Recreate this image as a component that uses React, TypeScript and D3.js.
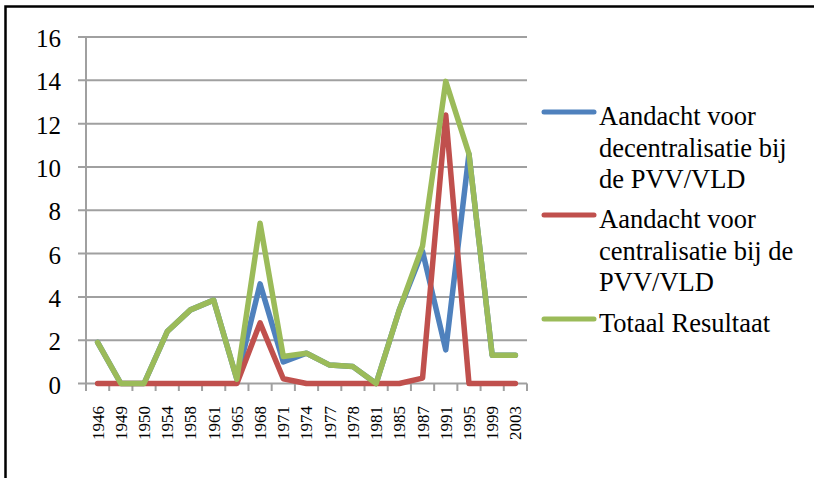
import * as d3 from "d3";

const years = ["1946", "1949", "1950", "1954", "1958", "1961", "1965", "1968", "1971", "1974", "1977", "1978", "1981", "1985", "1987", "1991", "1995", "1999", "2003"];
const decentralisatie = [1.9, 0, 0, 2.4, 3.4, 3.85, 0.2, 4.6, 1.0, 1.4, 0.85, 0.78, 0, 3.4, 6.1, 1.55, 10.6, 1.3, 1.3];
const centralisatie = [0, 0, 0, 0, 0, 0, 0, 2.8, 0.22, 0, 0, 0, 0, 0, 0.25, 12.4, 0, 0, 0];
const totaal = [1.9, 0, 0, 2.4, 3.4, 3.85, 0.2, 7.4, 1.25, 1.4, 0.85, 0.78, 0, 3.4, 6.35, 13.95, 10.6, 1.3, 1.3];
const yTicks = [0, 2, 4, 6, 8, 10, 12, 14, 16];

const series = [
  { name: ["Aandacht voor", "decentralisatie bij", "de PVV/VLD"], values: decentralisatie, color: "#4F81BD" },
  { name: ["Aandacht voor", "centralisatie bij de", "PVV/VLD"], values: centralisatie, color: "#C0504D" },
  { name: ["Totaal Resultaat"], values: totaal, color: "#9BBB59" },
];

const width = 814;
const height = 478;
const font = "Liberation Serif";
const grid = "#A0A0A0";

export default function App() {
  const x = d3.scaleBand<string>().domain(years).range([86, 527]).padding(0);
  const y = d3.scaleLinear().domain([0, 16]).range([383.5, 37]);
  const cx = (d: string) => (x(d) ?? 0) + x.bandwidth() / 2;

  const line = d3
    .line<number>()
    .x((_, i) => cx(years[i]))
    .y((v) => y(v));

  // legend layout
  const lineH = 31.5;
  const legendStarts = [125, 228, 332];

  return (
    <svg
      width={width}
      height={height}
      style={{ position: "absolute", left: 0, top: 0, background: "#fff", fontFamily: font }}
    >
      <rect x={5.5} y={6.5} width={width + 10} height={height + 10} fill="none" stroke="#000" strokeWidth={2.5} />

      {yTicks.map((t) => (
        <g key={t}>
          <line x1={78} x2={527} y1={y(t)} y2={y(t)} stroke={grid} strokeWidth={2} />
          <text x={61} y={y(t)} dy="0.4em" textAnchor="end" fontSize={25} fill="#000" style={{ fontFamily: font }}>
            {t}
          </text>
        </g>
      ))}

      <line x1={86} x2={86} y1={y(16)} y2={391} stroke={grid} strokeWidth={2} />
      {d3.range(years.length + 1).map((i) => {
        const xx = 86 + x.bandwidth() * i;
        return <line key={i} x1={xx} x2={xx} y1={y(0)} y2={391} stroke={grid} strokeWidth={2} />;
      })}

      {years.map((yr) => (
        <text
          key={yr}
          transform={`translate(${cx(yr)},406) rotate(-90)`}
          dy="0.35em"
          textAnchor="end"
          fontSize={17}
          fill="#000"
          style={{ fontFamily: font }}
        >
          {yr}
        </text>
      ))}

      {series.map((s) => (
        <path
          key={s.color}
          d={line(s.values) ?? ""}
          fill="none"
          stroke={s.color}
          strokeWidth={5.5}
          strokeLinejoin="round"
          strokeLinecap="round"
        />
      ))}

      {series.map((s, i) => (
        <g key={"lg" + i}>
          <line
            x1={544}
            x2={594}
            y1={legendStarts[i] - 13}
            y2={legendStarts[i] - 13}
            stroke={s.color}
            strokeWidth={5}
            strokeLinecap="round"
          />
          {s.name.map((ln, j) => (
            <text key={j} x={599} y={legendStarts[i] + j * lineH} fontSize={26.5} fill="#000" style={{ fontFamily: font }}>
              {ln}
            </text>
          ))}
        </g>
      ))}
    </svg>
  );
}
